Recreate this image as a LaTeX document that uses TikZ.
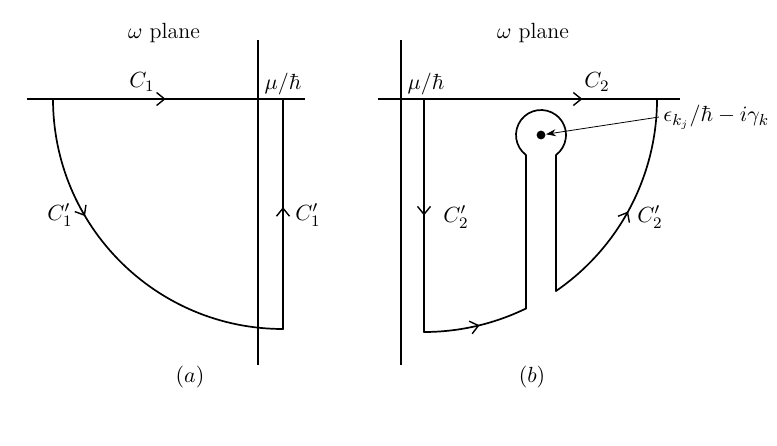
\documentclass[tikz,border=0pt]{standalone}
\usetikzlibrary{arrows.meta, decorations.markings}

\begin{document}
\begin{tikzpicture}[x=0.5pt, y=0.5pt, font=\fontsize{11}{13}\selectfont,
  axis/.style={line width=0.6pt},
  contour/.style={line width=0.85pt, line cap=round, line join=round},
  midarrow/.style={postaction={decorate}, decoration={markings,
    mark=at position #1 with {\arrow{Straight Barb[length=4pt, width=6.5pt, line width=0.7pt]}}}}]
\useasboundingbox (0,0) rectangle (777,-445);

% (a)
\draw [axis] (27,-99) -- (305,-99);
\draw [axis] (258,-40) -- (258,-365);
\draw [contour, midarrow=0.49] (53,-99) -- (283,-99);
\draw [contour, midarrow=0.53] (283,-329) -- (283,-99);
\draw [contour, midarrow=0.34] (53,-99) arc [start angle=180, end angle=270, radius=230];
\node (planeA) at (164,-33) {$\omega$ plane};
\node (muA) at (283,-84) {$\mu/\hbar$};
\node (cOneA) at (142,-82) {$C_1$};
\node (cOneL) at (60,-215) {$C_1'$};
\node (cOneR) at (308,-215) {$C_1'$};
\node (capA) at (190,-377) {$(a)$};

% (b)
\draw [axis] (378,-99) -- (680,-99);
\draw [axis] (401,-40) -- (401,-365);
\draw [contour, midarrow=0.68] (424,-99) -- (657,-99);
\draw [contour, midarrow=0.5] (424,-99) -- (424,-332);
\draw [contour, midarrow=0.53] (424,-332) arc [start angle=270, end angle=296, radius=233];
\draw [contour] (526,-308.4) -- (526,-155)
  arc [start angle=233.13, end angle=-53.13, radius=25] -- (556,-291);
\draw [contour, midarrow=0.48] (556,-291) arc [start angle=304.5, end angle=360, radius=233];
\coordinate (pole) at (541,-135);
\fill (pole) circle [radius=2.2pt];
\node [anchor=west, inner sep=2pt] (poleLabel) at (659,-117) {$\epsilon_{k_j}/\hbar-i\gamma_k$};
\draw [-{Stealth[length=5pt, width=3.5pt]}, shorten >=2.5pt] (poleLabel.west) -- (pole);
\node (planeB) at (533,-33) {$\omega$ plane};
\node (muB) at (426,-84) {$\mu/\hbar$};
\node (cTwoB) at (597,-82) {$C_2$};
\node (cTwoL) at (456,-217) {$C_2'$};
\node (cTwoR) at (650,-217) {$C_2'$};
\node (capB) at (532,-377) {$(b)$};
\end{tikzpicture}
\end{document}
